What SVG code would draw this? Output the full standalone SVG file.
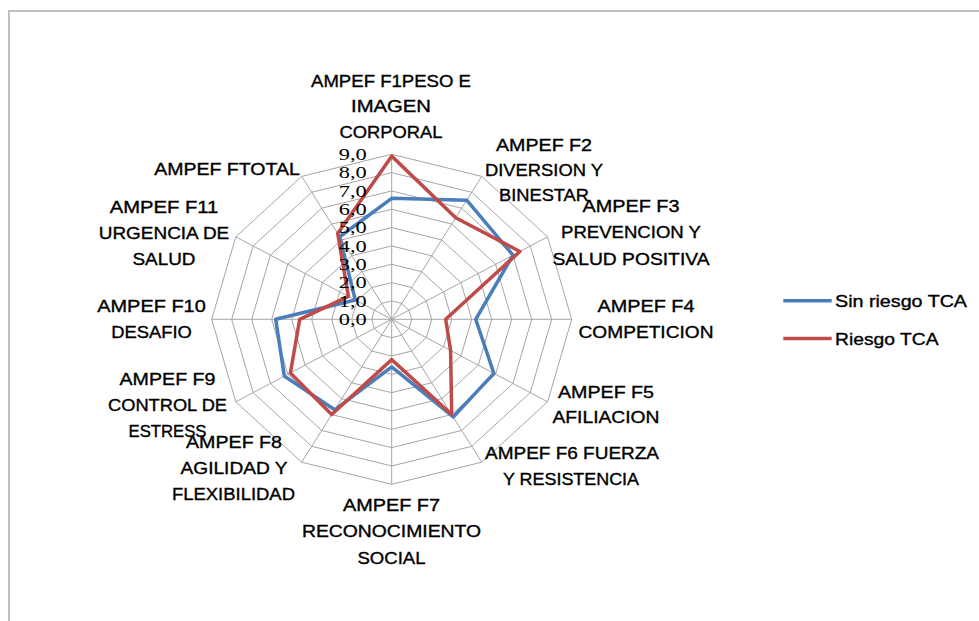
<svg xmlns="http://www.w3.org/2000/svg" width="979" height="621" viewBox="0 0 979 621">
<style>
.grid{fill:none;stroke:#a6a6a6;stroke-width:1;vector-effect:non-scaling-stroke}
.ser{fill:none;stroke-width:3.5;stroke-linejoin:round;vector-effect:non-scaling-stroke}
.blue{stroke:#4a7ebb}
.red{stroke:#be4b48}
.lbl{font-family:"Liberation Sans",Arial,sans-serif;font-size:16.5px;fill:#000;stroke:#000;stroke-width:0.35;text-anchor:middle}
.val{font-family:"Liberation Serif","Times New Roman",serif;font-size:17px;fill:#000;text-anchor:end}
.leg{font-family:"Liberation Sans",Arial,sans-serif;font-size:17px;fill:#000;stroke:#000;stroke-width:0.35}
</style>
<rect x="0" y="0" width="979" height="621" fill="#fff"/>
<rect x="9" y="11" width="1000" height="700" fill="none" stroke="#c0c0c0" stroke-width="2"/>
<g id="radar-grid" transform="translate(391.7,319.3) scale(1,0.9167)">
<polygon class="grid" points="0,-20 10,-17.32 17.32,-10 20,0 17.32,10 10,17.32 0,20 -10,17.32 -17.32,10 -20,0 -17.32,-10 -10,-17.32"/>
<polygon class="grid" points="0,-40 20,-34.64 34.64,-20 40,0 34.64,20 20,34.64 0,40 -20,34.64 -34.64,20 -40,0 -34.64,-20 -20,-34.64"/>
<polygon class="grid" points="0,-60 30,-51.96 51.96,-30 60,0 51.96,30 30,51.96 0,60 -30,51.96 -51.96,30 -60,0 -51.96,-30 -30,-51.96"/>
<polygon class="grid" points="0,-80 40,-69.28 69.28,-40 80,0 69.28,40 40,69.28 0,80 -40,69.28 -69.28,40 -80,0 -69.28,-40 -40,-69.28"/>
<polygon class="grid" points="0,-100 50,-86.6 86.6,-50 100,0 86.6,50 50,86.6 0,100 -50,86.6 -86.6,50 -100,0 -86.6,-50 -50,-86.6"/>
<polygon class="grid" points="0,-120 60,-103.92 103.92,-60 120,0 103.92,60 60,103.92 0,120 -60,103.92 -103.92,60 -120,0 -103.92,-60 -60,-103.92"/>
<polygon class="grid" points="0,-140 70,-121.24 121.24,-70 140,0 121.24,70 70,121.24 0,140 -70,121.24 -121.24,70 -140,0 -121.24,-70 -70,-121.24"/>
<polygon class="grid" points="0,-160 80,-138.56 138.56,-80 160,0 138.56,80 80,138.56 0,160 -80,138.56 -138.56,80 -160,0 -138.56,-80 -80,-138.56"/>
<polygon class="grid" points="0,-180 90,-155.88 155.88,-90 180,0 155.88,90 90,155.88 0,180 -90,155.88 -155.88,90 -180,0 -155.88,-90 -90,-155.88"/>
<path class="grid" d="M0,0V-180M0,0L90,-155.88M0,0L155.88,-90M0,0H180M0,0L155.88,90M0,0L90,155.88M0,0V180M0,0L-90,155.88M0,0L-155.88,90M0,0H-180M0,0L-155.88,-90M0,0L-90,-155.88"/>
</g>
<g id="series" transform="translate(391.7,319.3) scale(1,0.9167)">
<polygon id="sin-riesgo" class="ser blue" points="0,-132 75,-129.9 121.24,-70 84,0 102.19,59 61.5,106.52 0,52 -57,98.73 -107.39,62 -116,0 -36.37,-21 -52,-90.07"/>
<polygon id="riesgo" class="ser red" points="0,-178 64,-110.85 128.17,-74 54,0 58.89,34 60,103.92 0,44 -60,103.92 -101.32,58.5 -92,0 -43.3,-25 -54,-93.53"/>
</g>
<g id="axis-values">
<text class="val" x="366.7" y="325" textLength="28" lengthAdjust="spacingAndGlyphs">0,0</text>
<text class="val" x="366.7" y="306.6" textLength="28" lengthAdjust="spacingAndGlyphs">1,0</text>
<text class="val" x="366.7" y="288.3" textLength="28" lengthAdjust="spacingAndGlyphs">2,0</text>
<text class="val" x="366.7" y="270" textLength="28" lengthAdjust="spacingAndGlyphs">3,0</text>
<text class="val" x="366.7" y="251.6" textLength="28" lengthAdjust="spacingAndGlyphs">4,0</text>
<text class="val" x="366.7" y="233.3" textLength="28" lengthAdjust="spacingAndGlyphs">5,0</text>
<text class="val" x="366.7" y="215" textLength="28" lengthAdjust="spacingAndGlyphs">6,0</text>
<text class="val" x="366.7" y="196.6" textLength="28" lengthAdjust="spacingAndGlyphs">7,0</text>
<text class="val" x="366.7" y="178.3" textLength="28" lengthAdjust="spacingAndGlyphs">8,0</text>
<text class="val" x="366.7" y="160" textLength="28" lengthAdjust="spacingAndGlyphs">9,0</text>
</g>
<g id="label-f1">
<text class="lbl" x="391" y="87" textLength="160" lengthAdjust="spacingAndGlyphs">AMPEF F1PESO E</text>
<text class="lbl" x="391" y="112" textLength="80" lengthAdjust="spacingAndGlyphs">IMAGEN</text>
<text class="lbl" x="391" y="137.5" textLength="103" lengthAdjust="spacingAndGlyphs">CORPORAL</text>
</g>
<g id="label-f2">
<text class="lbl" x="544" y="150.5" textLength="96" lengthAdjust="spacingAndGlyphs">AMPEF F2</text>
<text class="lbl" x="544" y="175.5" textLength="118" lengthAdjust="spacingAndGlyphs">DIVERSION Y</text>
<text class="lbl" x="544" y="201" textLength="90" lengthAdjust="spacingAndGlyphs">BINESTAR</text>
</g>
<g id="label-f3">
<text class="lbl" x="631" y="212" textLength="97" lengthAdjust="spacingAndGlyphs">AMPEF F3</text>
<text class="lbl" x="631" y="237.6" textLength="140" lengthAdjust="spacingAndGlyphs">PREVENCION Y</text>
<text class="lbl" x="631" y="265" textLength="157" lengthAdjust="spacingAndGlyphs">SALUD POSITIVA</text>
</g>
<g id="label-f4">
<text class="lbl" x="646" y="312" textLength="97" lengthAdjust="spacingAndGlyphs">AMPEF F4</text>
<text class="lbl" x="646" y="338" textLength="135" lengthAdjust="spacingAndGlyphs">COMPETICION</text>
</g>
<g id="label-f5">
<text class="lbl" x="606" y="398" textLength="96" lengthAdjust="spacingAndGlyphs">AMPEF F5</text>
<text class="lbl" x="606" y="423" textLength="107" lengthAdjust="spacingAndGlyphs">AFILIACION</text>
</g>
<g id="label-f6">
<text class="lbl" x="572" y="459.4" textLength="174" lengthAdjust="spacingAndGlyphs">AMPEF F6 FUERZA</text>
<text class="lbl" x="571" y="485" textLength="136" lengthAdjust="spacingAndGlyphs">Y RESISTENCIA</text>
</g>
<g id="label-f7">
<text class="lbl" x="391.5" y="511" textLength="97" lengthAdjust="spacingAndGlyphs">AMPEF F7</text>
<text class="lbl" x="391.5" y="536.6" textLength="179" lengthAdjust="spacingAndGlyphs">RECONOCIMIENTO</text>
<text class="lbl" x="391.5" y="563.5" textLength="68" lengthAdjust="spacingAndGlyphs">SOCIAL</text>
</g>
<g id="label-f8">
<text class="lbl" x="234" y="447.5" textLength="96" lengthAdjust="spacingAndGlyphs">AMPEF F8</text>
<text class="lbl" x="234" y="474" textLength="107" lengthAdjust="spacingAndGlyphs">AGILIDAD Y</text>
<text class="lbl" x="233.5" y="500" textLength="123" lengthAdjust="spacingAndGlyphs">FLEXIBILIDAD</text>
</g>
<g id="label-f9">
<text class="lbl" x="167.5" y="385.3" textLength="96" lengthAdjust="spacingAndGlyphs">AMPEF F9</text>
<text class="lbl" x="167.5" y="410.7" textLength="119" lengthAdjust="spacingAndGlyphs">CONTROL DE</text>
<text class="lbl" x="167.5" y="436.8" textLength="78" lengthAdjust="spacingAndGlyphs">ESTRESS</text>
</g>
<g id="label-f10">
<text class="lbl" x="151.5" y="312" textLength="108.6" lengthAdjust="spacingAndGlyphs">AMPEF F10</text>
<text class="lbl" x="151.5" y="338" textLength="80.5" lengthAdjust="spacingAndGlyphs">DESAFIO</text>
</g>
<g id="label-f11">
<text class="lbl" x="164" y="213" textLength="108.6" lengthAdjust="spacingAndGlyphs">AMPEF F11</text>
<text class="lbl" x="164" y="238.8" textLength="130.5" lengthAdjust="spacingAndGlyphs">URGENCIA DE</text>
<text class="lbl" x="164" y="265.3" textLength="63" lengthAdjust="spacingAndGlyphs">SALUD</text>
</g>
<g id="label-ftotal">
<text class="lbl" x="227" y="175.4" textLength="145.5" lengthAdjust="spacingAndGlyphs">AMPEF FTOTAL</text>
</g>
<g id="legend">
<line x1="783.3" y1="300.7" x2="831.7" y2="300.7" stroke="#4a7ebb" stroke-width="3.5"/>
<text class="leg" x="835" y="307" textLength="132" lengthAdjust="spacingAndGlyphs">Sin riesgo TCA</text>
<line x1="783.3" y1="338.5" x2="831.7" y2="338.5" stroke="#be4b48" stroke-width="3.5"/>
<text class="leg" x="835" y="345" textLength="103.5" lengthAdjust="spacingAndGlyphs">Riesgo TCA</text>
</g>
</svg>
